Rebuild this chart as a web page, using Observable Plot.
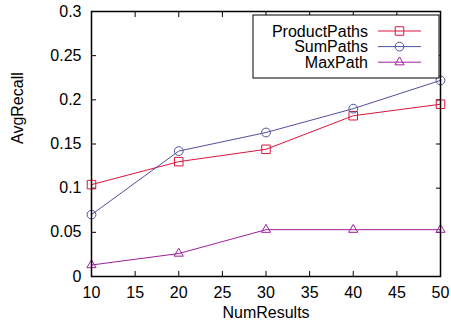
<!DOCTYPE html>
<html>
<head>
<meta charset="utf-8">
<script src="https://cdn.jsdelivr.net/npm/d3@7"></script>
<script src="https://cdn.jsdelivr.net/npm/@observablehq/plot@0.6"></script>
<style>
  html, body { margin: 0; padding: 0; background: #fff; }
</style>
</head>
<body>
<div id="chart"></div>
<script>
const numResults = [10, 20, 30, 40, 50];
const productPaths = [0.104, 0.130, 0.144, 0.182, 0.195];
const sumPaths = [0.070, 0.142, 0.163, 0.190, 0.222];
const maxPath = [0.013, 0.026, 0.053, 0.053, 0.053];
const seriesNames = ["ProductPaths", "SumPaths", "MaxPath"];
const seriesColors = ["#dc143c", "#4f4f9f", "#a01fa0"];
const seriesSymbols = ["square", "circle", "triangle"];
const seriesR = [4.8, 4.4, 3.4];
const xTicks = [10, 15, 20, 25, 30, 35, 40, 45, 50];
const yTicks = [0, 0.05, 0.1, 0.15, 0.2, 0.25, 0.3];

const seriesValues = [productPaths, sumPaths, maxPath];
const rows = seriesNames.map((name, i) =>
  numResults.map((x, j) => ({series: name, x, y: seriesValues[i][j]})));

const font = "'Liberation Sans', Arial, Helvetica, sans-serif";

const marks = [];
rows.forEach((data, i) => {
  marks.push(Plot.line(data, {x: "x", y: "y", stroke: seriesColors[i], strokeWidth: 1}));
  marks.push(Plot.dot(data, {x: "x", y: "y", stroke: seriesColors[i], fill: "none",
    symbol: seriesSymbols[i], r: seriesR[i], strokeWidth: 1}));
});

const plot = Plot.plot({
  width: 451,
  height: 330,
  marginLeft: 91,
  marginRight: 11,
  marginTop: 11,
  marginBottom: 54,
  style: {fontFamily: font, fontSize: "16px", color: "#000", background: "#fff"},
  x: {domain: [10, 50]},
  y: {domain: [0, 0.3]},
  marks: [
    Plot.axisX({ticks: xTicks, tickSize: -5, tickPadding: 15, label: null, tickFormat: d => String(d)}),
    Plot.axisX({anchor: "top", ticks: xTicks, tickSize: -5, label: null, tickFormat: () => ""}),
    Plot.axisY({ticks: yTicks, tickSize: -5, tickPadding: 15, label: null, tickFormat: d => String(d)}),
    Plot.axisY({anchor: "right", ticks: yTicks, tickSize: -5, label: null, tickFormat: () => ""}),
    ...marks,
    Plot.frame({stroke: "#000", strokeWidth: 1.5}),
    Plot.text(["NumResults"], {frameAnchor: "bottom", dy: 41, text: d => d, fontSize: 16}),
    Plot.text(["AvgRecall"], {frameAnchor: "left", dx: -74, rotate: -90, text: d => d, fontSize: 16})
  ]
});

document.getElementById("chart").appendChild(plot);

// Legend inside the plot, positioned relative to the frame
const [x0, x1] = plot.scale("x").range;
const [yb, yt] = plot.scale("y").range;
const svg = d3.select(plot);
const g = svg.append("g").attr("font-family", font).attr("font-size", 16);
const boxRight = x1 - 1, boxTop = yt + 4, boxLeft = x1 - 187, boxBottom = yt + 67;
g.append("rect")
  .attr("x", boxLeft).attr("y", boxTop)
  .attr("width", boxRight - boxLeft).attr("height", boxBottom - boxTop)
  .attr("fill", "#fff").attr("stroke", "#000").attr("stroke-width", 1);
seriesNames.forEach((name, i) => {
  const cy = yt + 20 + i * 15.6;
  g.append("text").attr("x", x1 - 72).attr("y", cy).attr("text-anchor", "end")
    .attr("dy", "0.35em").text(name);
  g.append("line").attr("x1", x1 - 62).attr("x2", x1 - 19).attr("y1", cy).attr("y2", cy)
    .attr("stroke", seriesColors[i]).attr("stroke-width", 1);
  const sym = {square: d3.symbolSquare, circle: d3.symbolCircle, triangle: d3.symbolTriangle}[seriesSymbols[i]];
  g.append("path")
    .attr("d", d3.symbol(sym, Math.PI * seriesR[i] * seriesR[i])())
    .attr("transform", `translate(${x1 - 40.5},${cy})`)
    .attr("fill", "none").attr("stroke", seriesColors[i]).attr("stroke-width", 1);
});
</script>
</body>
</html>
